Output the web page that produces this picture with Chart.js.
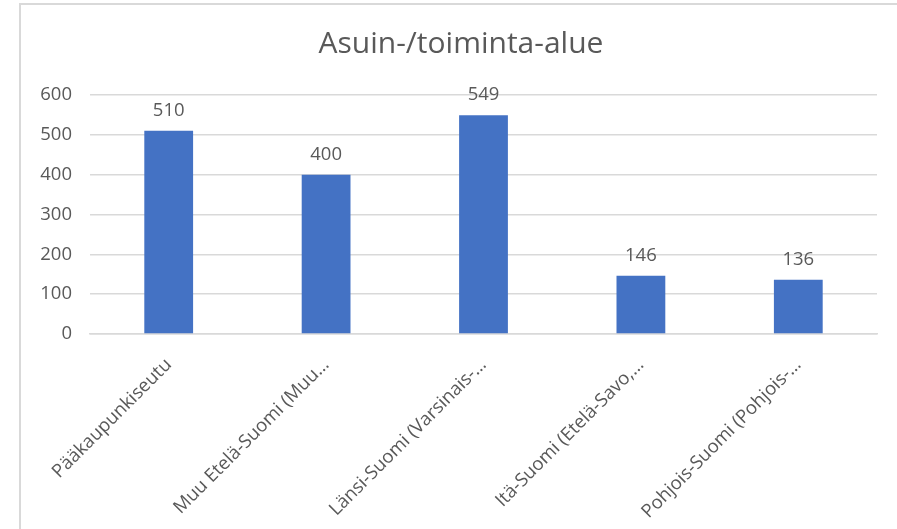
<!DOCTYPE html>
<html>
<head>
<meta charset="utf-8">
<script src="https://cdn.jsdelivr.net/npm/chart.js@4"></script>
<style>
    html, body { margin: 0; padding: 0; background: #fff; }
    #wrap { position: relative; width: 897px; height: 529px; overflow: hidden; }
    #frame {
        position: absolute; left: 19px; top: 3px; width: 900px; height: 540px;
        border-left: 2px solid #d9d9d9; border-top: 2px solid #d9d9d9;
    }
    #chart { position: absolute; left: 0; top: 0; }
</style>
</head>
<body>
<div id="wrap">
    <div id="frame"></div>
    <canvas id="chart" width="897" height="529"></canvas>
</div>
<script>
// Data
const regions = [
    'Pääkaupunkiseutu',
    'Muu Etelä-Suomi (Muu…',
    'Länsi-Suomi (Varsinais-…',
    'Itä-Suomi (Etelä-Savo,…',
    'Pohjois-Suomi (Pohjois-…'
];
const counts = [510, 400, 549, 146, 136];
const yTicks = [0, 100, 200, 300, 400, 500, 600];

const textGrey = '#595959';
const fontFamily = '"Open Sans", "Liberation Sans", sans-serif';

// Value labels above the bars
const valueLabels = {
    id: 'valueLabels',
    afterLayout(chart) {
        // title sits a little right of the canvas centre in the original
        if (chart.titleBlock) chart.titleBlock.left = 45;
    },
    afterDatasetsDraw(chart) {
        const ctx = chart.ctx;
        const meta = chart.getDatasetMeta(0);
        ctx.save();
        ctx.fillStyle = textGrey;
        ctx.font = '18.5px ' + fontFamily;
        ctx.textAlign = 'center';
        ctx.textBaseline = 'alphabetic';
        meta.data.forEach((bar, i) => {
            ctx.fillText(counts[i], bar.x, bar.y - 15);
        });
        ctx.restore();
    }
};

const ctx = document.getElementById('chart').getContext('2d');
const chart = new Chart(ctx, {
    type: 'bar',
    data: {
        labels: regions,
        datasets: [
            {
                label: 'Asuin-/toiminta-alue',
                data: counts,
                backgroundColor: '#4472c4',
                borderWidth: 0,
                categoryPercentage: 1,
                barPercentage: 0.31,
            },
        ],
    },
    options: {
        responsive: false,
        animation: false,
        layout: {
            padding: { left: 20, right: 20, top: 0, bottom: 0 },
        },
        plugins: {
            legend: { display: false },
            tooltip: { enabled: false },
            title: {
                display: true,
                text: 'Asuin-/toiminta-alue',
                color: textGrey,
                font: { family: fontFamily, size: 30, weight: 'normal' },
                padding: { top: 26, bottom: 33 },
            },
        },
        scales: {
            x: {
                grid: { display: false },
                border: { display: true, color: '#d9d9d9', width: 1.5 },
                ticks: {
                    color: textGrey,
                    font: { family: fontFamily, size: 18.5 },
                    minRotation: 45,
                    maxRotation: 45,
                    autoSkip: false,
                    padding: 12,
                },
                afterFit: (scale) => { scale.height = 195; },
            },
            y: {
                min: 0,
                max: 600,
                border: { display: false },
                grid: { color: '#d9d9d9', lineWidth: 1.5, drawTicks: false },
                afterBuildTicks: (scale) => {
                    scale.ticks = yTicks.map(v => ({ value: v }));
                },
                ticks: {
                    color: textGrey,
                    font: { family: fontFamily, size: 18.5 },
                    padding: 18,
                },
                afterFit: (scale) => { scale.width = 70; },
            },
        },
    },
    plugins: [valueLabels],
});
</script>
</body>
</html>
